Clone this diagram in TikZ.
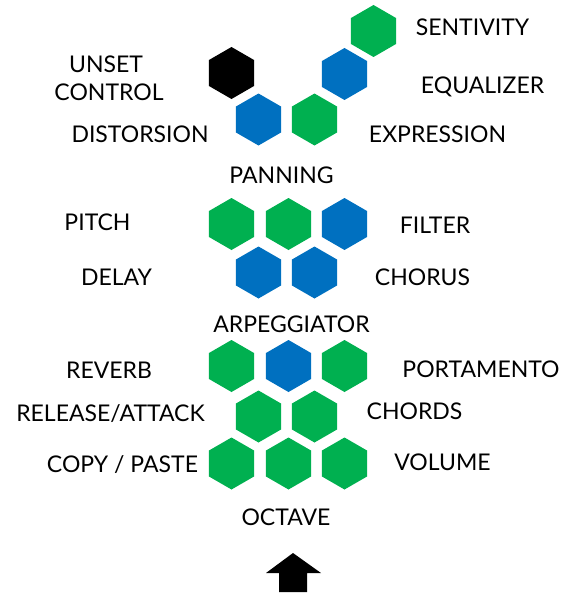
\documentclass[tikz,border=0pt]{standalone}
\usepackage{fontspec}
\setmainfont{Lato}
\usetikzlibrary{shapes.geometric}
\definecolor{hexgreen}{HTML}{00B050}
\definecolor{hexblue}{HTML}{0070C0}
\tikzset{
  hex/.style={regular polygon, regular polygon sides=6, shape border rotate=30,
    minimum size=52pt, inner sep=0pt, draw=none},
  hg/.style={hex, fill=hexgreen},
  hb/.style={hex, fill=hexblue},
  hk/.style={hex, fill=black},
  lbl/.style={anchor=base, inner sep=0pt, font=\fontsize{23}{27}\selectfont}
}
\begin{document}
\begin{tikzpicture}[x=1pt,y=-1pt]
\useasboundingbox (0,0) rectangle (567,594);
% top group
\node[hk] (h1) at (231.5,73) {};
\node[hb] (h2) at (258.5,119.5) {};
\node[hg] (h3) at (314.5,119.5) {};
\node[hb] (h4) at (344.5,74) {};
\node[hg] (h5) at (373.5,31) {};
% middle group
\node[hg] (m1) at (231.5,224) {};
\node[hg] (m2) at (288.5,224) {};
\node[hb] (m3) at (344.5,224) {};
\node[hb] (m4) at (258.5,272.5) {};
\node[hb] (m5) at (314.5,272.5) {};
% bottom group
\node[hg] (b1) at (231.5,366) {};
\node[hb] (b2) at (288.5,366) {};
\node[hg] (b3) at (344.5,366) {};
\node[hg] (b4) at (258.5,416.5) {};
\node[hg] (b5) at (314.5,416.5) {};
\node[hg] (b6) at (231.5,463.5) {};
\node[hg] (b7) at (288.5,463.5) {};
\node[hg] (b8) at (344.5,463.5) {};
% labels
\node[lbl] (t1) at (106,73) {UNSET};
\node[lbl] (t2) at (109,100) {CONTROL};
\node[lbl] (t3) at (140,142) {DISTORSION};
\node[lbl] (t4) at (472.5,36) {SENTIVITY};
\node[lbl] (t5) at (482.5,93) {EQUALIZER};
\node[lbl] (t6) at (437.5,142) {EXPRESSION};
\node[lbl] (t7) at (281.5,183) {PANNING};
\node[lbl] (t8) at (97.5,230) {PITCH};
\node[lbl] (t9) at (116.5,285) {DELAY};
\node[lbl] (t10) at (435,233) {FILTER};
\node[lbl] (t11) at (422.5,285) {CHORUS};
\node[lbl] (t12) at (291.5,332) {ARPEGGIATOR};
\node[lbl] (t13) at (109,378) {REVERB};
\node[lbl] (t14) at (110.5,421) {RELEASE/ATTACK};
\node[lbl] (t15) at (122.5,472) {COPY / PASTE};
\node[lbl] (t16) at (481,377) {PORTAMENTO};
\node[lbl] (t17) at (414.5,419) {CHORDS};
\node[lbl] (t18) at (442.5,470) {VOLUME};
\node[lbl] (t19) at (286,525) {OCTAVE};
% arrow
\fill[black] (293,553) -- (321,573) -- (307,573) -- (307,592) -- (279,592) -- (279,573) -- (266,573) -- cycle;
\end{tikzpicture}
\end{document}
